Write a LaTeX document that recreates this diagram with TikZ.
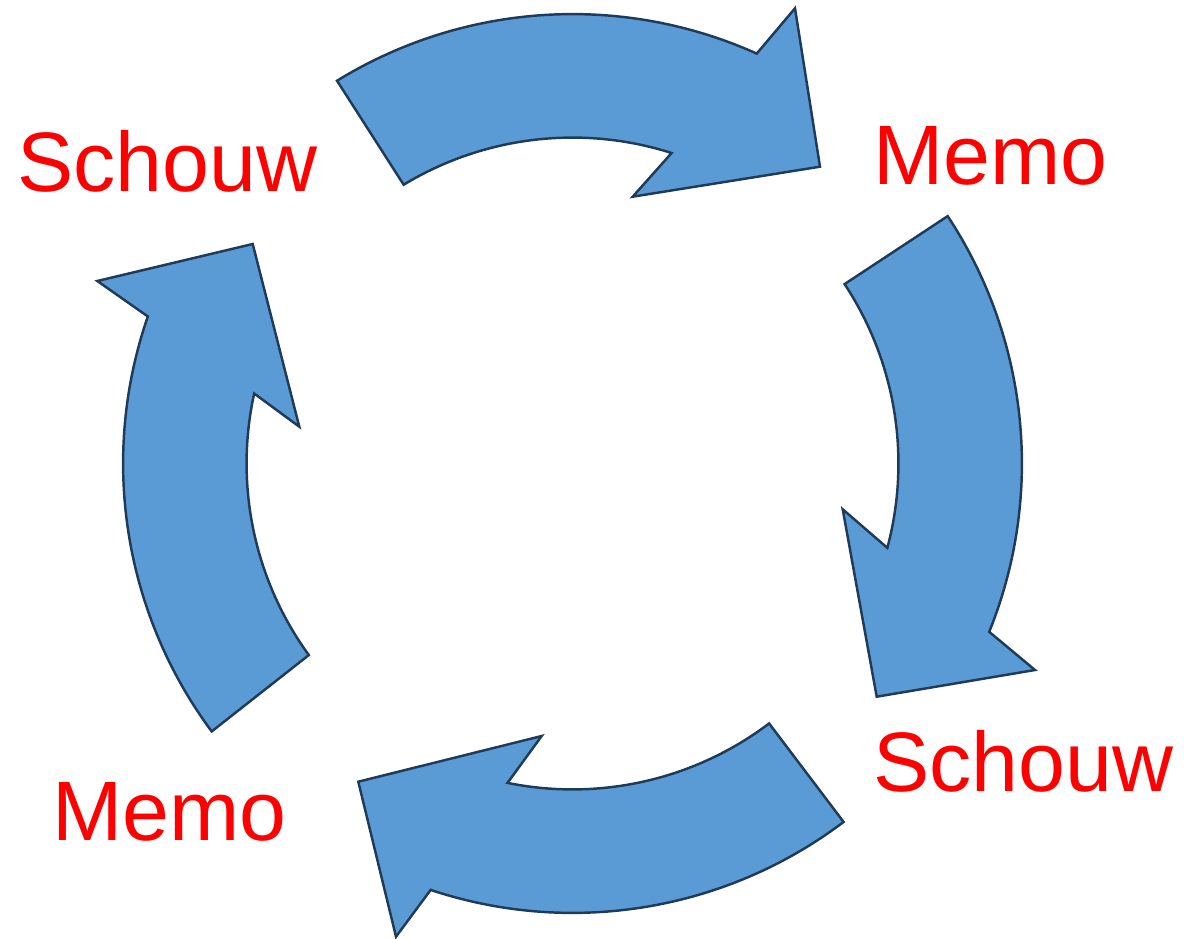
\documentclass[tikz,border=0pt]{standalone}
\usepackage{fontspec}
\setmainfont{Liberation Sans}
\usetikzlibrary{calc}
\definecolor{arrowfill}{HTML}{5B9BD5}
\definecolor{arrowedge}{HTML}{1F3B57}
\begin{document}
\begin{tikzpicture}[x=0.02cm,y=0.02cm,
  band/.style={fill=arrowfill,draw=arrowedge,line width=1.4pt,line join=miter},
  steptag/.style={text=red,inner sep=0pt,outer sep=0pt,anchor=base west,
    font=\fontsize{48}{57}\selectfont}]
\useasboundingbox (0,0) rectangle (1184,938);
\def\outerR{8.99cm}
\def\innerR{6.52cm}
\coordinate (C) at (572.5,474.5);

% top arrow (left to right)
\draw[band] ($(C)+(121.6:\outerR)$) arc[start angle=121.6,end angle=65.8,radius=\outerR]
  -- (795,929.7) -- (820,771.3) -- (632.7,741.3)
  -- ($(C)+(72.3:\innerR)$) arc[start angle=72.3,end angle=121.2,radius=\innerR] -- cycle;

% right arrow (top to bottom)
\draw[band] ($(C)+(33.4:\outerR)$) arc[start angle=33.4,end angle=-22.0,radius=\outerR]
  -- (1035,268) -- (876.7,241.3) -- (842.7,428.7)
  -- ($(C)+(-15.0:\innerR)$) arc[start angle=-15.0,end angle=33.4,radius=\innerR] -- cycle;

% bottom arrow (right to left)
\draw[band] ($(C)+(-52.9:\outerR)$) arc[start angle=-52.9,end angle=-108.4,radius=\outerR]
  -- (396,1.3) -- (358.3,156.3) -- (541.7,202)
  -- ($(C)+(-101.5:\innerR)$) arc[start angle=-101.5,end angle=-52.9,radius=\innerR] -- cycle;

% left arrow (bottom to top)
\draw[band] ($(C)+(216.6:\outerR)$) arc[start angle=216.6,end angle=160.9,radius=\outerR]
  -- (97.3,657) -- (252.7,694) -- (299.3,511.3)
  -- ($(C)+(167.6:\innerR)$) arc[start angle=167.6,end angle=216.0,radius=\innerR] -- cycle;

% labels
\node[steptag] (schouwA) at (17.5,746.3) {Schouw};
\node[steptag] (memoA) at (873,753) {Memo};
\node[steptag] (schouwB) at (873.5,147) {Schouw};
\node[steptag] (memoB) at (52,98) {Memo};
\end{tikzpicture}
\end{document}
